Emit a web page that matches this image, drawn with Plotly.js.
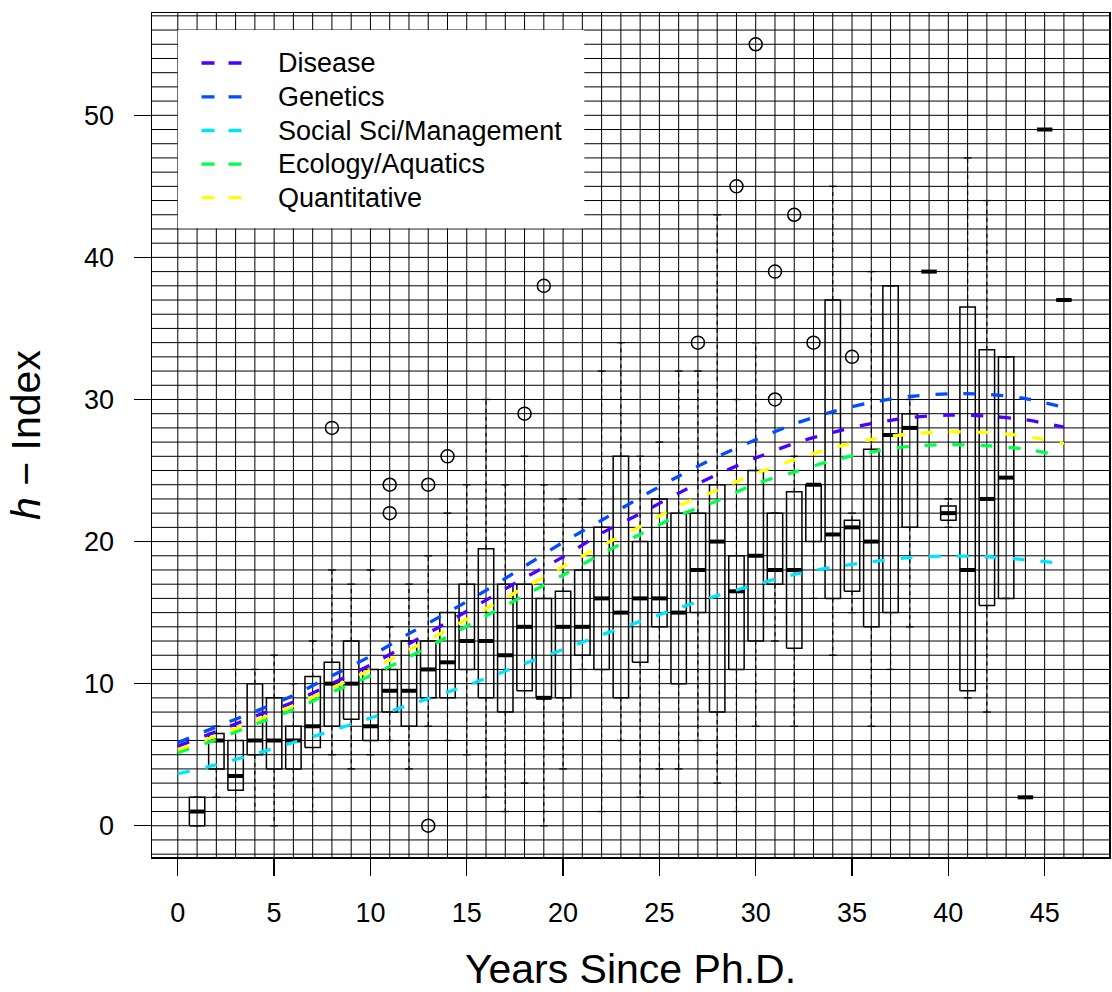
<!DOCTYPE html>
<html><head><meta charset="utf-8">
<script src="https://cdn.plot.ly/plotly-3.0.1.min.js"></script>
<style>html,body{margin:0;padding:0;background:#fff}#chart{width:1112px;height:992px}</style>
</head><body><div id="chart"></div>
<script>
// ---- data ----
const years = [1,2,3,4,5,6,7,8,9,10,11,12,13,14,15,16,17,18,19,20,21,22,23,24,25,26,27,28,29,30,31,32,33,34,35,36,37,38,39,40,41,42,43,44,45,46];
const lowerWhisker = [0,2,1,1,0,1,1,5,4,5, 6,4,7,6,5,2,1,3,0,4, 11,1,6,2,4,4,6,3,1,7, 13,7,16,12,15,7,11,14,39,21, 9,8,16,2,49,37];
const q1 = [0,4,2.5,5,4,4,5.5,7,7.5,6, 8,7,9,9,11,9,8,9.5,9,9, 12,11,9,11.5,14,10,15,8,11,13, 17,12.5,20,16,16.5,14,15,21,39,21.5, 9.5,15.5,16,2,49,37];
const medians = [1,6,3.5,6,6,6,7,10,10,7, 9.5,9.5,11,11.5,13,13,12,14,9,14, 14,16,15,16,16,15,18,20,16.5,19, 18,18,24,20.5,21,20,27.5,28,39,22, 18,23,24.5,2,49,37];
const q3 = [2,6.5,6,10,9,7,10.5,11.5,13,11, 11,13,13,15,17,19.5,17,17,16,16.5, 18,21,26,20,23,22,22,24,19,25, 22,23.5,24,37,21.5,26.5,38,29,39,22.5, 36.5,33.5,33,2,49,37];
const upperWhisker = [2,7,11,11,12,10,13,18,17,18, 14,17,19,22,24,30,24,26,24,23, 23,32,34,26,27,32,32,43,30,34, 22,26,24,45,22,39,38,30,39,23, 47,44,33,2,49,37];
const outlierYears  = [8,11,11,13,13,14,18,19,27,29,30,31,31,32,33,35];
const outlierValues = [28,22,24,24,0,26,29,38,34,45,55,30,39,43,34,33];

const curveYears = [0,2,4,6,8,10,12,14,16,18,20,22,24,26,28,30,32,34,36,38,40,42,44,46];
const disease      = [5.6,6.63,7.7,8.7,10.0,11.32,12.8,14.32,15.88,17.45,18.92,20.59,21.96,23.41,24.72,25.88,26.91,27.69,28.3,28.73,28.9,28.83,28.57,28.05];
const genetics     = [5.85,6.96,8.04,9.18,10.56,11.93,13.52,15.0,16.57,18.26,19.95,21.5,23.1,24.6,25.97,27.16,28.28,29.14,29.8,30.21,30.4,30.37,30.06,29.45];
const socialSci    = [3.66,4.3,5.05,5.86,6.69,7.58,8.5,9.4,10.37,11.41,12.4,13.43,14.38,15.32,16.2,16.97,17.69,18.2,18.58,18.87,18.98,18.93,18.72,18.45];
const ecology      = [5.15,6.07,7.13,8.16,9.4,10.55,11.88,13.3,14.78,16.2,17.65,19.13,20.52,21.84,22.86,24.06,24.89,25.71,26.3,26.7,26.82,26.75,26.5,26.0];
const quantitative = [5.35,6.32,7.38,8.45,9.7,10.97,12.38,13.78,15.29,16.76,18.25,19.71,21.05,22.52,23.63,24.79,25.76,26.59,27.2,27.57,27.72,27.67,27.42,26.9];
const seriesNames  = ['Disease','Genetics','Social Sci/Management','Ecology/Aquatics','Quantitative'];
const seriesValues = [disease, genetics, socialSci, ecology, quantitative];
const seriesColors = ['#4C00FF','#004CFF','#00E5FF','#00FF4D','#FFFF00'];

const xTickVals = [0,5,10,15,20,25,30,35,40,45];
const yTickVals = [0,10,20,30,40,50];
const xTitle = 'Years Since Ph.D.';
const yTitle = '<i>h</i> \u2212 Index';

// ---- style ----
const FONT = 'Liberation Sans, Arial, Helvetica, sans-serif';
const halfBox = 0.4, halfStaple = 0.2;

// ---- build box-plot pieces from the arrays ----
const boxX = [], boxY = [], medX = [], medY = [], whX = [], whY = [], stX = [], stY = [];
years.forEach((yr, i) => {
  boxX.push(yr - halfBox, yr + halfBox, yr + halfBox, yr - halfBox, yr - halfBox, null);
  boxY.push(q1[i], q1[i], q3[i], q3[i], q1[i], null);
  medX.push(yr - halfBox, yr + halfBox, null);
  medY.push(medians[i], medians[i], null);
  if (upperWhisker[i] > q3[i]) { whX.push(yr, yr, null); whY.push(q3[i], upperWhisker[i], null); }
  if (lowerWhisker[i] < q1[i]) { whX.push(yr, yr, null); whY.push(q1[i], lowerWhisker[i], null); }
  stX.push(yr - halfStaple, yr + halfStaple, null, yr - halfStaple, yr + halfStaple, null);
  stY.push(upperWhisker[i], upperWhisker[i], null, lowerWhisker[i], lowerWhisker[i], null);
});

const traces = [
  {type:'scatter', mode:'lines', x: whX, y: whY, line:{color:'#000', width:1.2, dash:'4px,4px'}, hoverinfo:'skip', showlegend:false},
  {type:'scatter', mode:'lines', x: stX, y: stY, line:{color:'#000', width:1.3}, hoverinfo:'skip', showlegend:false},
  {type:'scatter', mode:'lines', x: boxX, y: boxY, line:{color:'#000', width:1.5}, hoverinfo:'skip', showlegend:false},
  {type:'scatter', mode:'lines', x: medX, y: medY, line:{color:'#000', width:4}, hoverinfo:'skip', showlegend:false},
  {type:'scatter', mode:'markers', x: outlierYears, y: outlierValues,
   marker:{symbol:'circle-open', size:13, color:'#000', line:{width:1.5, color:'#000'}}, showlegend:false}
];
seriesNames.forEach((name, k) => {
  traces.push({type:'scatter', mode:'lines', name: name, x: curveYears, y: seriesValues[k],
    line:{color: seriesColors[k], width:3.3, dash:'12px,16px', shape:'spline', smoothing:0.8}, showlegend:false});
});

// ---- grid (every year / every unit) and legend box ----
const shapes = [];
for (let gx = 0; gx <= 47; gx++) shapes.push({type:'line', xref:'x', yref:'paper', x0:gx, x1:gx, y0:0, y1:1, line:{color:'#000', width:1}, layer:'below'});
for (let gy = -2; gy <= 57; gy++) shapes.push({type:'line', xref:'paper', yref:'y', x0:0, x1:1, y0:gy, y1:gy, line:{color:'#000', width:1}, layer:'below'});
shapes.push({type:'rect', xref:'x', yref:'y', x0:0, x1:21.1, y0:42.05, y1:56, fillcolor:'#fff', line:{width:0}, layer:'below'});
const legendRows = [53.68, 51.3, 48.93, 46.56, 44.2];
const annotations = [];
seriesNames.forEach((name, k) => {
  shapes.push({type:'line', xref:'x', yref:'y', x0:1.23, x1:3.36, y0:legendRows[k], y1:legendRows[k],
    line:{color: seriesColors[k], width:3.3, dash:'13px,14px'}, layer:'above'});
  annotations.push({xref:'x', yref:'y', x:5.1, y:legendRows[k], text:name, showarrow:false,
    xanchor:'left', yanchor:'middle', font:{family:FONT, size:27, color:'#000'}});
});

const axisCommon = {showgrid:false, zeroline:false, showline:true, mirror:true, linecolor:'#000', linewidth:1.5,
  ticks:'outside', ticklen:17, tickwidth:1.3, tickcolor:'#000', tickfont:{family:FONT, size:27, color:'#000'}};

const layout = {
  width:1112, height:992,
  margin:{l:152, r:2.5, t:12.6, b:134.7},
  paper_bgcolor:'#fff', plot_bgcolor:'#fff',
  font:{family:FONT, color:'#000'},
  xaxis: Object.assign({}, axisCommon, {range:[-1.34, 48.34], tickvals:xTickVals, ticklabelstandoff:14,
    title:{text:xTitle, font:{family:FONT, size:41, color:'#000'}, standoff:30}}),
  yaxis: Object.assign({}, axisCommon, {range:[-2.2, 57.2], tickvals:yTickVals, ticklabelstandoff:14,
    title:{text:yTitle, font:{family:FONT, size:41, color:'#000'}, standoff:30}}),
  shapes: shapes,
  annotations: annotations,
  showlegend:false
};

Plotly.newPlot('chart', traces, layout, {displayModeBar:false, staticPlot:true});
</script></body></html>
